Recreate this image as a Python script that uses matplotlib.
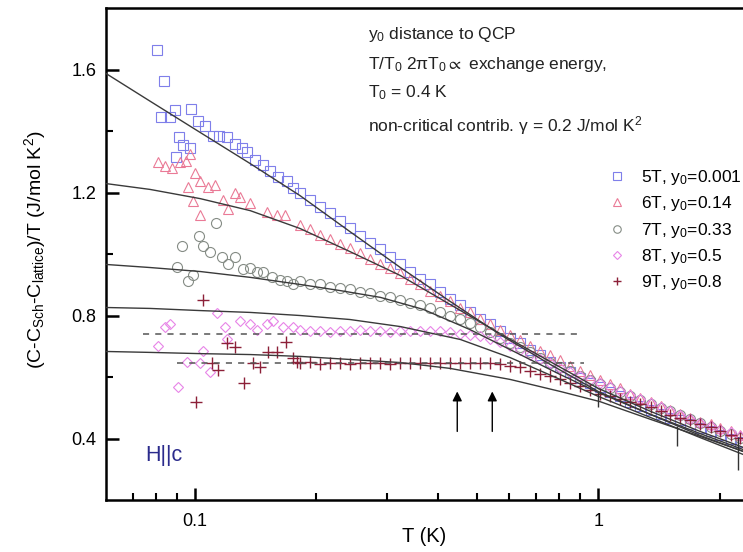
import matplotlib
matplotlib.use("Agg")
import matplotlib.pyplot as plt
from matplotlib.ticker import LogLocator, FixedLocator, FixedFormatter, NullFormatter

plt.rcParams['font.family'] = ['Liberation Sans', 'DejaVu Sans']
plt.rcParams['mathtext.fontset'] = 'custom'
plt.rcParams['mathtext.rm'] = 'Liberation Sans'
plt.rcParams['mathtext.it'] = 'Liberation Sans:italic'
plt.rcParams['mathtext.default'] = 'rm'
plt.rcParams['mathtext.fallback'] = 'stixsans'

# ---------------- data ----------------
T_grid = [0.182, 0.193, 0.204, 0.216, 0.229, 0.242, 0.257, 0.272, 0.288, 0.305,
          0.323, 0.342, 0.362, 0.383, 0.405, 0.429, 0.455, 0.481, 0.510, 0.540,
          0.571, 0.605, 0.641, 0.678, 0.718, 0.760, 0.805, 0.852, 0.902, 0.955,
          1.01, 1.07, 1.13, 1.20, 1.27, 1.35, 1.43, 1.51, 1.60, 1.69,
          1.79, 1.90, 2.01, 2.13, 2.25]

# 5T, y0=0.001 (squares)
T5_low = [0.0805, 0.0838, 0.0823, 0.0867, 0.0892, 0.0913, 0.0934, 0.0972, 0.0897, 0.0977,
          0.1017, 0.106, 0.1108, 0.1147, 0.1201, 0.1256, 0.1307, 0.1346, 0.141, 0.1475,
          0.153, 0.161, 0.169, 0.175]
C5_low = [1.665, 1.561, 1.447, 1.447, 1.467, 1.382, 1.356, 1.346, 1.314, 1.470,
          1.434, 1.415, 1.385, 1.385, 1.379, 1.359, 1.346, 1.333, 1.307, 1.290,
          1.270, 1.252, 1.236, 1.216]
C5_hi = [1.200, 1.177, 1.154, 1.132, 1.106, 1.083, 1.060, 1.037, 1.015, 0.989,
         0.966, 0.943, 0.920, 0.901, 0.878, 0.855, 0.833, 0.813, 0.790, 0.771,
         0.748, 0.728, 0.709, 0.689, 0.670, 0.650, 0.634, 0.615, 0.598, 0.582,
         0.566, 0.550, 0.537, 0.520, 0.507, 0.494, 0.481, 0.468, 0.459, 0.446,
         0.433, 0.423, 0.410, 0.397, 0.387]

# 6T, y0=0.14 (triangles)
T6_low = [0.0810, 0.0842, 0.0877, 0.0918, 0.0950, 0.0972, 0.100, 0.1029, 0.0961, 0.1077,
          0.1121, 0.0989, 0.1029, 0.1174, 0.1257, 0.1294, 0.1369, 0.1208, 0.1510, 0.1598,
          0.1672]
C6_low = [1.298, 1.285, 1.281, 1.298, 1.301, 1.324, 1.265, 1.236, 1.219, 1.219,
          1.226, 1.171, 1.128, 1.177, 1.200, 1.184, 1.167, 1.145, 1.135, 1.128,
          1.128]
C6_hi = [1.093, 1.080, 1.063, 1.050, 1.034, 1.018, 1.002, 0.985, 0.969, 0.953,
         0.937, 0.920, 0.901, 0.881, 0.862, 0.846, 0.826, 0.810, 0.790, 0.771,
         0.754, 0.738, 0.719, 0.702, 0.686, 0.670, 0.654, 0.637, 0.621, 0.605,
         0.589, 0.576, 0.563, 0.546, 0.533, 0.520, 0.507, 0.494, 0.481, 0.468,
         0.455, 0.446, 0.433, 0.423, 0.410]

# 7T, y0=0.33 (circles)
T7_low = [0.1127, 0.1023, 0.0928, 0.1046, 0.1089, 0.1167, 0.1257, 0.1208, 0.0902, 0.0989,
          0.0961, 0.1315, 0.1369, 0.1425, 0.1475, 0.1553, 0.1626, 0.1691, 0.1751]
C7_low = [1.102, 1.057, 1.025, 1.025, 1.008, 0.989, 0.989, 0.966, 0.959, 0.933,
          0.911, 0.950, 0.953, 0.940, 0.940, 0.924, 0.917, 0.911, 0.901]
C7_hi = [0.911, 0.904, 0.901, 0.894, 0.891, 0.885, 0.878, 0.872, 0.865, 0.859,
         0.852, 0.842, 0.833, 0.823, 0.813, 0.800, 0.787, 0.774, 0.761, 0.745,
         0.728, 0.712, 0.696, 0.680, 0.663, 0.647, 0.631, 0.618, 0.602, 0.589,
         0.576, 0.563, 0.550, 0.537, 0.524, 0.511, 0.498, 0.488, 0.475, 0.462,
         0.449, 0.439, 0.426, 0.416, 0.403]

# 8T, y0=0.5 (diamonds)
T8_low = [0.1134, 0.0842, 0.0867, 0.0810, 0.0907, 0.1187, 0.1201, 0.1089, 0.1046, 0.0955,
          0.1029, 0.1369, 0.1425, 0.1510, 0.1562, 0.1654, 0.1751, 0.1294]
C8_low = [0.807, 0.764, 0.771, 0.702, 0.566, 0.761, 0.722, 0.615, 0.683, 0.650,
          0.647, 0.771, 0.754, 0.771, 0.781, 0.761, 0.764, 0.781]
C8_hi = [0.754, 0.748, 0.751, 0.745, 0.751, 0.748, 0.754, 0.748, 0.751, 0.745,
         0.751, 0.748, 0.751, 0.748, 0.748, 0.745, 0.741, 0.738, 0.732, 0.725,
         0.715, 0.702, 0.689, 0.673, 0.657, 0.644, 0.628, 0.615, 0.602, 0.589,
         0.579, 0.566, 0.553, 0.540, 0.527, 0.514, 0.501, 0.491, 0.478, 0.465,
         0.452, 0.442, 0.429, 0.420, 0.407]

# 9T, y0=0.8 (plus)
T9_low = [0.1046, 0.1006, 0.1323, 0.1201, 0.1257, 0.1141, 0.1102, 0.1393, 0.1450, 0.1518,
          0.1598, 0.1682, 0.1751, 0.1791]
C9_low = [0.852, 0.520, 0.582, 0.712, 0.696, 0.624, 0.647, 0.647, 0.634, 0.680,
          0.680, 0.715, 0.663, 0.650]
C9_hi = [0.644, 0.650, 0.641, 0.644, 0.647, 0.641, 0.644, 0.647, 0.644, 0.641,
         0.644, 0.647, 0.644, 0.644, 0.647, 0.644, 0.647, 0.644, 0.647, 0.644,
         0.641, 0.637, 0.631, 0.621, 0.611, 0.602, 0.592, 0.582, 0.572, 0.559,
         0.546, 0.537, 0.527, 0.520, 0.511, 0.501, 0.491, 0.478, 0.468, 0.459,
         0.446, 0.436, 0.426, 0.413, 0.403]

# fit curves
Tf5 = [0.0601, 0.0773, 0.103, 0.137, 0.182, 0.242, 0.323, 0.429, 0.571, 0.760, 1.0, 1.35, 1.79, 2.29]
Cf5 = [1.587, 1.497, 1.395, 1.294, 1.190, 1.073, 0.956, 0.846, 0.738, 0.641, 0.553, 0.478, 0.416, 0.364]
Tf6 = [0.0601, 0.0773, 0.103, 0.137, 0.182, 0.242, 0.323, 0.429, 0.571, 0.760, 1.0, 1.35, 1.79, 2.29]
Cf6 = [1.229, 1.210, 1.180, 1.141, 1.083, 1.008, 0.930, 0.836, 0.741, 0.650, 0.563, 0.488, 0.423, 0.371]
Tf7 = [0.0601, 0.0773, 0.103, 0.137, 0.182, 0.229, 0.288, 0.368, 0.481, 0.605, 0.805, 1.0, 1.35, 1.79, 2.29]
Cf7 = [0.966, 0.956, 0.943, 0.924, 0.901, 0.881, 0.859, 0.820, 0.754, 0.689, 0.608, 0.550, 0.478, 0.410, 0.358]
Tf8 = [0.0601, 0.0773, 0.103, 0.137, 0.182, 0.242, 0.323, 0.455, 0.605, 0.805, 1.0, 1.35, 1.79, 2.29]
Cf8 = [0.826, 0.823, 0.816, 0.810, 0.800, 0.787, 0.764, 0.722, 0.663, 0.592, 0.537, 0.468, 0.403, 0.348]
Tf9 = [0.0601, 0.0773, 0.103, 0.137, 0.182, 0.242, 0.323, 0.429, 0.605, 0.805, 1.01, 1.35, 1.79, 2.29]
Cf9 = [0.683, 0.680, 0.676, 0.673, 0.667, 0.657, 0.647, 0.628, 0.592, 0.553, 0.520, 0.462, 0.407, 0.358]

# dashed reference levels
dash_T1 = [0.0743, 0.90]
dash_C1 = [0.740, 0.740]
dash_T2 = [0.0902, 0.92]
dash_C2 = [0.647, 0.647]

# arrows
arrow_T = [0.447, 0.546]
arrow_C0 = 0.423
arrow_C1 = 0.553

# error bars
err_T = [1.0, 1.57, 2.22]
err_C = [0.527, 0.407, 0.351]
err_dC = [0.023, 0.033, 0.055]

labels = ['5T, y$_0$=0.001', '6T, y$_0$=0.14', '7T, y$_0$=0.33', '8T, y$_0$=0.5', '9T, y$_0$=0.8']
colors = ['#7f7fea', '#ea7a96', '#858c85', '#e884e8', '#8c2038']
markers = ['s', '^', 'o', 'D', '+']
msizes = [6.8, 7.2, 7.2, 5.6, 8.5]

# ---------------- figure ----------------
W, H = 743, 552
fig = plt.figure(figsize=(W / 100, H / 100), dpi=100)
ax = fig.add_axes([106 / W, 52 / H, (760 - 106) / W, 492 / H])
ax.set_xscale('log')
ax.set_xlim(0.0601, 2.52)
ax.set_ylim(0.2, 1.8)

series = [
    (T5_low + T_grid, C5_low + C5_hi),
    (T6_low + T_grid, C6_low + C6_hi),
    (T7_low + T_grid, C7_low + C7_hi),
    (T8_low + T_grid, C8_low + C8_hi),
    (T9_low + T_grid, C9_low + C9_hi),
]
handles = []
for (tt, cc), col, mk, ms, lab in zip(series, colors, markers, msizes, labels):
    if mk == '+':
        h, = ax.plot(tt, cc, ls='none', marker=mk, ms=ms, mew=1.0, color=col, label=lab, zorder=2)
    else:
        h, = ax.plot(tt, cc, ls='none', marker=mk, ms=ms, mew=0.8, mfc='none', mec=col,
                     label=lab, zorder=2)
    handles.append(h)

for tf, cf in [(Tf5, Cf5), (Tf6, Cf6), (Tf7, Cf7), (Tf8, Cf8), (Tf9, Cf9)]:
    ax.plot(tf, cf, color='#3a3a3a', lw=1.0, zorder=3)

ax.plot(dash_T1, dash_C1, color='#555555', lw=1.1, ls=(0, (4, 4)), zorder=3)
ax.plot(dash_T2, dash_C2, color='#555555', lw=1.1, ls=(0, (4, 4)), zorder=3)

for t in arrow_T:
    ax.annotate('', xy=(t, arrow_C1), xytext=(t, arrow_C0),
                arrowprops=dict(arrowstyle='-|>', color='black', lw=1.0,
                                mutation_scale=14, shrinkA=0, shrinkB=0))

ax.errorbar(err_T, err_C, yerr=err_dC, fmt='none', ecolor='#333333', elinewidth=1.0, capsize=0, zorder=4)

# axes styling
for sp in ['left', 'bottom', 'top', 'right']:
    ax.spines[sp].set_linewidth(1.8)
ax.yaxis.set_major_locator(FixedLocator([0.4, 0.8, 1.2, 1.6]))
ax.yaxis.set_major_formatter(FixedFormatter(['0.4', '0.8', '1.2', '1.6']))
ax.yaxis.set_minor_locator(FixedLocator([0.6, 1.0, 1.4]))
ax.xaxis.set_major_locator(FixedLocator([0.1, 1.0]))
ax.xaxis.set_major_formatter(FixedFormatter(['0.1', '1']))
ax.xaxis.set_minor_locator(LogLocator(base=10, subs=[2, 3, 4, 5, 6, 7, 8, 9]))
ax.xaxis.set_minor_formatter(NullFormatter())
ax.tick_params(which='major', direction='in', length=9, width=1.8, labelsize=13, pad=7,
               top=False, right=False)
ax.tick_params(which='minor', direction='in', length=5, width=1.5, top=False, right=False)
ax.tick_params(axis='x', which='major', pad=9)

fig.text(35 / W, 1 - 250 / H, '(C-C$_{Sch}$-C$_{lattice}$)/T (J/mol K$^2$)', rotation=90,
         ha='center', va='center', fontsize=14)
fig.text(424 / W, 1 - 537 / H, 'T (K)', ha='center', va='center', fontsize=14.5)

# annotation text
ann = ['y$_0$ distance to QCP',
       'T/T$_0$ 2πT$_0$$\\propto$ exchange energy,',
       'T$_0$ = 0.4 K',
       'non-critical contrib. γ = 0.2 J/mol K$^2$']
ann_y = [35, 64, 93, 126]
for s, yy in zip(ann, ann_y):
    fig.text(368 / W, 1 - yy / H, s, ha='left', va='center', fontsize=12.5, color='#222222')

fig.text(145 / W, 1 - 455 / H, 'H||c', ha='left', va='center', fontsize=15.5, color='#2b2b8c')

leg = ax.legend(handles=handles, loc='upper left', bbox_to_anchor=(608 / W, 1 - 168 / H),
                bbox_transform=fig.transFigure, frameon=False, fontsize=12.5,
                handlelength=1.0, handletextpad=0.9, labelspacing=0.42, borderpad=0,
                borderaxespad=0, markerscale=0.75)

fig.savefig('out.png', dpi=100)
